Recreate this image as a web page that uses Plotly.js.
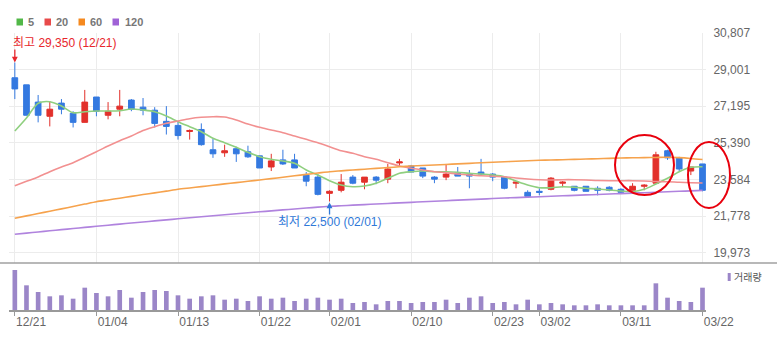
<!DOCTYPE html>
<html><head><meta charset="utf-8">
<script src="https://cdn.plot.ly/plotly-3.0.1.min.js"></script>
<style>html,body{margin:0;padding:0;background:#fff}#chart{width:777px;height:344px}</style>
</head><body><div id="chart"></div>
<script>
// ---- data ----
const dates = ['12/21','12/22','12/23','12/24','12/28','12/29','12/30',
  '01/04','01/05','01/06','01/07','01/08','01/11','01/12','01/13','01/14','01/15',
  '01/18','01/19','01/20','01/21','01/22','01/25','01/26','01/27','01/28','01/29',
  '02/01','02/02','02/03','02/04','02/05','02/08','02/09','02/10',
  '02/15','02/16','02/17','02/18','02/19','02/22','02/23','02/24','02/25','02/26',
  '03/02','03/03','03/04','03/05','03/08','03/09','03/10','03/11','03/12',
  '03/15','03/16','03/17','03/18','03/19','03/22'];
const openP  = [28600,28250,27400,26700,27350,26850,26400,27650,26750,27050,27500,27150,27000,26450,26250,25950,26050,25050,24900,25100,24950,24750,24200,24550,24550,23800,23700,22900,23050,23700,23450,23700,23600,24400,24250,24150,23700,23700,23900,23850,23950,23850,23700,23400,22950,23000,23100,23400,23250,23250,23150,23200,23100,23050,23250,23400,25000,24650,24000,24350];
const highP  = [29350,28250,27750,27450,27550,26950,28000,27650,27400,28000,27550,27600,27150,27200,26450,26050,26350,25600,25300,25200,25250,24750,24850,25050,24850,23950,23850,23050,23850,23800,23700,23750,24350,24600,24300,24150,23750,24350,24200,24050,24600,23900,23700,23450,23050,23150,23700,23500,23250,23250,23250,23250,23150,23400,23350,24950,25050,24700,24200,24350];
const lowP   = [27550,26750,26400,26200,26800,26150,26400,26700,26550,26700,26950,26750,26150,25800,25550,25550,25250,24650,24700,24450,24650,24150,24000,24300,24150,23250,22800,22500,22950,23350,23100,23350,23400,24200,23950,23650,23400,23550,23750,23150,23800,23500,23100,23150,22750,22800,23050,23200,23000,23000,22800,23000,22900,23050,23050,23400,24550,24000,23800,23000];
const closeP = [28050,26750,26750,27050,27050,26400,27400,26950,26950,27200,27050,27000,26350,26200,25750,26000,25300,24850,25000,24850,24700,24150,24500,24350,24150,23500,22850,23000,23450,23400,23700,23550,24100,24450,23950,23750,23600,23850,23750,23750,23850,23700,23150,23450,22750,22950,23650,23450,23050,23000,23050,23050,22950,23250,23300,24800,24650,24100,24200,23050];
const volume = [1000000,617000,450000,342000,367000,283000,558000,425000,342000,500000,308000,450000,500000,475000,367000,283000,342000,367000,258000,283000,225000,342000,283000,308000,225000,283000,308000,258000,283000,175000,200000,142000,225000,225000,175000,200000,200000,258000,175000,308000,342000,175000,200000,142000,258000,142000,175000,142000,117000,117000,142000,117000,117000,117000,117000,667000,308000,225000,200000,558000];
const ma5   = [25974,26616,27340,27419,27207,26877,26926,26960,26960,26975,27060,27010,26926,26714,26433,26187,25940,25614,25398,25170,24924,24707,24579,24495,24381,24051,23805,23524,23312,23228,23262,23396,23642,23888,23967,24002,23967,23967,23937,23888,23854,23805,23721,23509,23312,23178,23178,23228,23198,23149,23114,23065,23016,22981,23099,23361,23642,23967,24185,24214];
const ma20  = [23276,23494,23706,23967,24199,24411,24678,24954,25235,25498,25728,26000,26187,26354,26468,26581,26650,26680,26665,26517,26320,26155,26024,25891,25728,25565,25398,25200,25003,24875,24707,24579,24411,24248,24135,24051,23967,23918,23854,23805,23770,23740,23721,23657,23607,23573,23558,23573,23573,23558,23533,23524,23524,23524,23509,23484,23475,23445,23425,23410];
const ma60  = [21670,21790,21905,22020,22135,22250,22370,22488,22575,22660,22750,22840,22925,23010,23099,23165,23230,23295,23365,23430,23495,23558,23625,23695,23765,23835,23900,23967,24010,24050,24090,24130,24170,24210,24248,24275,24300,24325,24355,24380,24405,24431,24455,24480,24505,24530,24545,24560,24575,24590,24605,24625,24643,24652,24660,24670,24678,24660,24620,24569];
const ma120 = [20881,20939,20996,21053,21109,21165,21220,21275,21329,21383,21436,21489,21541,21593,21644,21695,21745,21795,21844,21893,21941,21989,22036,22083,22129,22175,22220,22262,22290,22318,22346,22374,22402,22430,22457,22484,22511,22538,22564,22590,22616,22642,22668,22690,22712,22734,22756,22778,22800,22822,22844,22866,22888,22910,22932,22955,22978,23000,23022,23045];
const xTickLabels = ['12/21','01/04','01/13','01/22','02/01','02/10','02/23','03/02','03/11','03/22'];
const yTicks = [19973,21778,23584,25390,27195,29001,30807];
const maNames = ['5','20','60','120'];

// ---- styling ----
const FONT = 'Liberation Sans, Arial, Noto Sans CJK KR, sans-serif';
const RED = '#e2302b', BLUE = '#3479e0';
const maLineColors = ['#8fcf7f','#f29090','#f6a24c','#b083de'];
const maKeyColors  = ['#52b848','#e84a4a','#f5891f','#a062d6'];
const VOLC = '#9b86c8';
const L = 9, R = 71, T = 33, B = 34, WIDTH = 777, HEIGHT = 344;
const W = WIDTH - L - R, H = HEIGHT - T - B;
const PX = x => (x - L) / W;
const PY = y => (T + H - y) / H;

const maData = [ma5, ma20, ma60, ma120];
const traces = maData.map((d, i) => ({
  type: 'scatter', mode: 'lines', x: dates, y: d, xaxis: 'x', yaxis: 'y',
  line: {color: maLineColors[i], width: 1.6, shape: 'spline', smoothing: 0.8},
  hoverinfo: 'skip', showlegend: false
}));
traces.push({
  type: 'candlestick', x: dates, open: openP, high: highP, low: lowP, close: closeP,
  xaxis: 'x', yaxis: 'y',
  increasing: {line: {color: RED, width: 1}, fillcolor: RED},
  decreasing: {line: {color: BLUE, width: 1}, fillcolor: BLUE},
  whiskerwidth: 0, hoverinfo: 'skip', showlegend: false
});
traces.push({
  type: 'bar', x: dates, y: volume, xaxis: 'x2', yaxis: 'y2',
  marker: {color: VOLC}, hoverinfo: 'skip', showlegend: false
});

const hiIdx = highP.indexOf(Math.max(...highP));
const loIdx = lowP.indexOf(Math.min(...lowP));
const fmt = v => v.toLocaleString('en-US');
const maxVol = Math.max(...volume);

const annotations = [];
const shapes = [];
// MA key
const keySq = [16.5, 44.5, 78.5, 112.5];
const keyTx = [25.5, 53.5, 87.5, 122.5];
maNames.forEach((n, i) => {
  shapes.push({type: 'rect', xref: 'paper', yref: 'paper', x0: PX(keySq[i]), x1: PX(keySq[i] + 6.5),
    y0: PY(25.5), y1: PY(18.5), fillcolor: maKeyColors[i], line: {width: 0}});
  annotations.push({xref: 'paper', yref: 'paper', x: PX(keyTx[i]), y: PY(22), xanchor: 'left', yanchor: 'middle',
    text: '<b>' + n + '</b>', showarrow: false, font: {family: FONT, size: 11, color: '#777'}});
});
// volume key
shapes.push({type: 'rect', xref: 'paper', yref: 'paper', x0: PX(727.7), x1: PX(730.7), y0: PY(281), y1: PY(273),
  fillcolor: VOLC, line: {width: 0}});
annotations.push({xref: 'paper', yref: 'paper', x: PX(731.5), y: PY(277), xanchor: 'left', yanchor: 'middle',
  text: '거래량', showarrow: false, font: {family: FONT, size: 10, color: '#555'}});
// high / low marks
annotations.push({xref: 'x', yref: 'y', x: dates[hiIdx], y: highP[hiIdx], xanchor: 'left', yanchor: 'middle',
  xshift: -4, yshift: 20, text: '최고 ' + fmt(highP[hiIdx]) + ' (' + dates[hiIdx] + ')', showarrow: false,
  font: {family: FONT, size: 12, color: '#e8262c'}});
annotations.push({xref: 'x', yref: 'y', x: dates[hiIdx], y: highP[hiIdx], text: ' ', showarrow: true,
  ax: 0, ay: -14, standoff: 0, arrowhead: 2, arrowsize: 0.9, arrowwidth: 1.3, arrowcolor: '#e8262c',
  font: {size: 1}, borderpad: 0});
annotations.push({xref: 'x', yref: 'y', x: dates[loIdx], y: lowP[loIdx], xanchor: 'center', yanchor: 'middle',
  yshift: -21, text: '최저 ' + fmt(lowP[loIdx]) + ' (' + dates[loIdx] + ')', showarrow: false,
  font: {family: FONT, size: 12, color: '#2f78d8'}});
annotations.push({xref: 'x', yref: 'y', x: dates[loIdx], y: lowP[loIdx], text: ' ', showarrow: true,
  ax: 0, ay: 14, standoff: 1, arrowhead: 2, arrowsize: 0.9, arrowwidth: 1.3, arrowcolor: '#2f78d8',
  font: {size: 1}, borderpad: 0});
// separator line
shapes.push({type: 'line', xref: 'paper', yref: 'paper', x0: PX(0), x1: PX(WIDTH), y0: PY(263), y1: PY(263),
  line: {color: '#a0a0a0', width: 1.5}});
// highlight ellipses
shapes.push({type: 'circle', xref: 'paper', yref: 'paper', x0: PX(615), x1: PX(674), y0: PY(195), y1: PY(135),
  line: {color: '#e8000d', width: 2}});
shapes.push({type: 'circle', xref: 'paper', yref: 'paper', x0: PX(688), x1: PX(730), y0: PY(208), y1: PY(142),
  line: {color: '#e8000d', width: 2}});

const xr = [-0.5, 59.3];
const layout = {
  width: WIDTH, height: HEIGHT, margin: {l: L, r: R, t: T, b: B},
  paper_bgcolor: '#fff', plot_bgcolor: '#fff', showlegend: false,
  font: {family: FONT, size: 12, color: '#666'},
  boxgap: 0.3, bargap: 0.6,
  xaxis: {type: 'category', range: xr, anchor: 'y', showticklabels: false, ticks: '',
    tickvals: xTickLabels, showgrid: true, gridcolor: '#ececec', gridwidth: 1, zeroline: false,
    showline: false, rangeslider: {visible: false}, fixedrange: true},
  yaxis: {domain: [PY(263), 1], range: [19465, 30807], side: 'right', anchor: 'x',
    tickvals: yTicks, ticktext: yTicks.map(fmt), showgrid: true, gridcolor: '#ececec',
    zeroline: false, showline: false, ticks: 'outside', ticklen: 4, tickcolor: 'rgba(0,0,0,0)',
    tickfont: {family: FONT, size: 12, color: '#666'}, fixedrange: true},
  xaxis2: {type: 'category', range: xr, anchor: 'y2', tickvals: xTickLabels, ticktext: xTickLabels,
    ticklabelposition: 'outside right', ticks: 'outside', ticklen: 4, tickcolor: '#999',
    showline: true, linecolor: '#999', linewidth: 1.5, showgrid: false, zeroline: false,
    tickfont: {family: FONT, size: 12, color: '#666'}, fixedrange: true},
  yaxis2: {domain: [0, PY(265)], range: [0, maxVol * 1.125], anchor: 'x2', showgrid: false,
    showticklabels: false, zeroline: false, showline: false, ticks: '', fixedrange: true},
  shapes: shapes, annotations: annotations
};
Plotly.newPlot('chart', traces, layout, {displayModeBar: false, staticPlot: true});
</script>
</body></html>
